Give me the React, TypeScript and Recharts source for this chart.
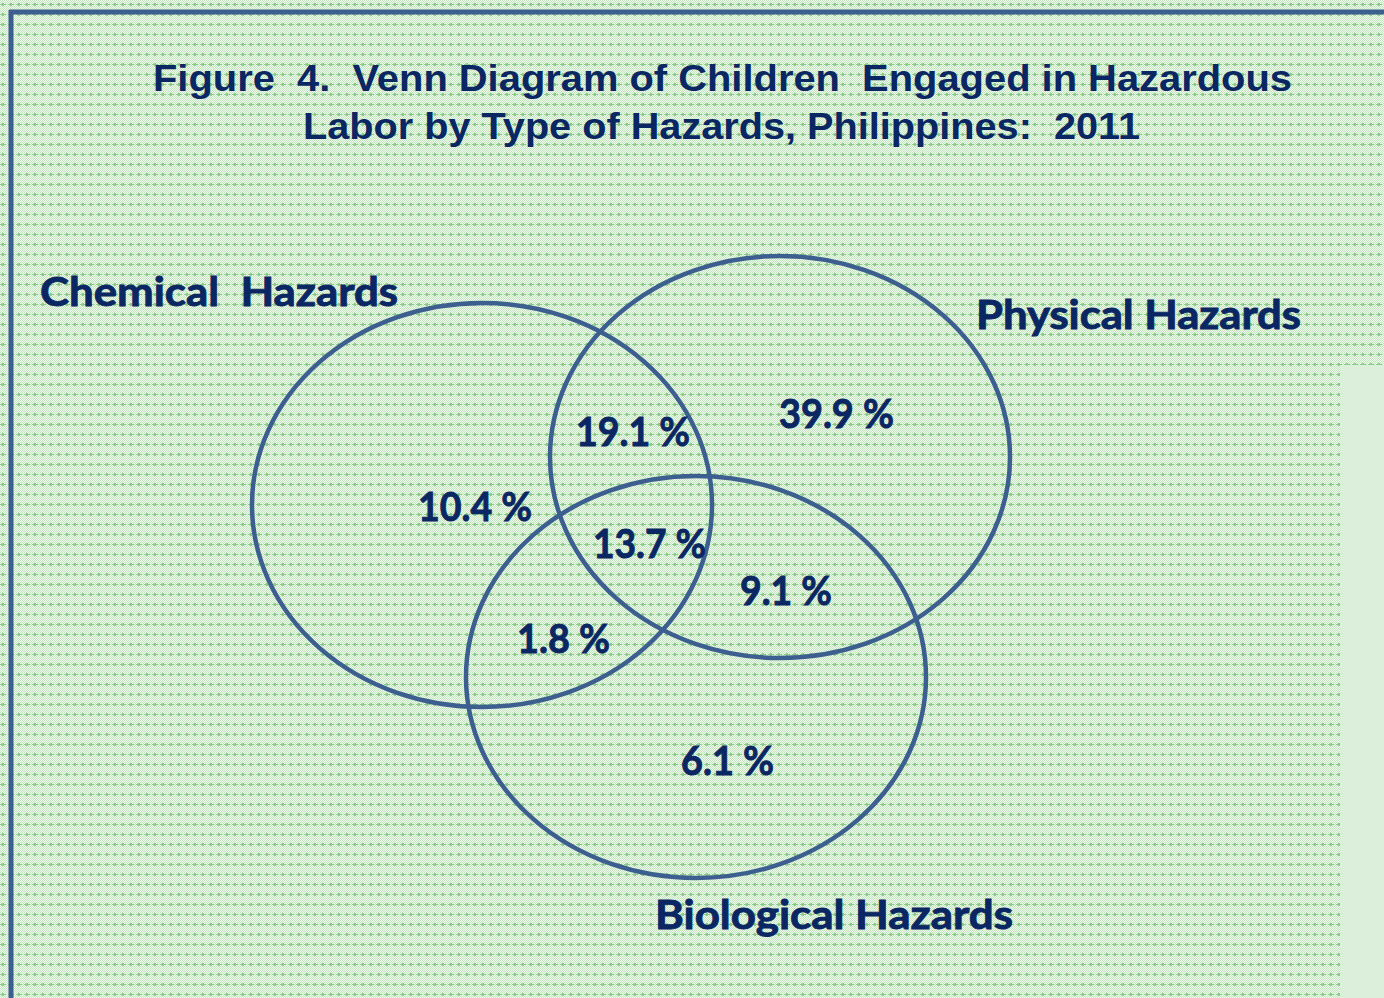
import React from "react";
import {
  ScatterChart,
  Scatter,
  XAxis,
  YAxis,
  ReferenceArea,
  ReferenceLine,
} from "recharts";

// ---- Data ----
const titleLines = [
  "Figure  4.  Venn Diagram of Children  Engaged in Hazardous",
  "Labor by Type of Hazards, Philippines:  2011",
];
const setNames = ["Chemical  Hazards", "Physical Hazards", "Biological Hazards"];
const regionNames = [
  "Chemical only",
  "Chemical & Physical",
  "Physical only",
  "Chemical, Physical & Biological",
  "Physical & Biological",
  "Chemical & Biological",
  "Biological only",
];
const regionValues = [10.4, 19.1, 39.9, 13.7, 9.1, 1.8, 6.1];

// ---- Layout (chart coordinates: 1 unit = 1 px, y downward) ----
const W = 1384;
const H = 998;
const circleLayout = [
  { cx: 482, cy: 505, rx: 230, ry: 202 },
  { cx: 780, cy: 457, rx: 230, ry: 201 },
  { cx: 696, cy: 677, rx: 230, ry: 201 },
];
const setLabelLayout = [
  { x: 219, y: 306, w: 358 },
  { x: 1138.5, y: 329, w: 325 },
  { x: 834, y: 929, w: 358 },
];
const regionLabelLayout = [
  { x: 475, y: 521, w: 114 },
  { x: 633, y: 446, w: 114 },
  { x: 836.5, y: 428, w: 115 },
  { x: 649.5, y: 558, w: 113 },
  { x: 786, y: 605, w: 92 },
  { x: 563.5, y: 653, w: 93 },
  { x: 727.5, y: 775, w: 93 },
];
const titleLayout = [
  { x: 722.5, y: 91, w: 1139 },
  { x: 721.5, y: 139, w: 837 },
];

const NAVY = "#0b2763";
const LINE = "#3d5f8f";
const LABEL_FONT = "Lato, 'Open Sans', sans-serif";
const TITLE_FONT = "'Liberation Sans', Arial, sans-serif";

const titleData = titleLines.map((t, i) => ({ ...titleLayout[i], label: t }));
const setData = setNames.map((t, i) => ({ ...setLabelLayout[i], label: t }));
const regionData = regionValues.map((v, i) => ({
  ...regionLabelLayout[i],
  name: regionNames[i],
  label: `${v.toFixed(1)} %`,
}));

const makeTextShape =
  (fontFamily: string, fontSize: number, outline: number) => (props: any) => {
    const { cx, cy, payload } = props;
    return (
      <text
        x={cx}
        y={cy}
        textAnchor="middle"
        fontFamily={fontFamily}
        fontSize={fontSize}
        fontWeight={700}
        fill={NAVY}
        stroke={outline > 0 ? NAVY : "none"}
        strokeWidth={outline}
        textLength={payload.w}
        lengthAdjust="spacingAndGlyphs"
        style={{ whiteSpace: "pre" }}
      >
        {payload.label}
      </text>
    );
  };

const BackgroundShape = (props: any) => {
  const { x, y, width, height } = props;
  return (
    <g>
      <defs>
        <pattern id="bgpat" width="8" height="10" patternUnits="userSpaceOnUse">
          <rect x="0" y="0" width="8" height="10" fill="#f0f9ee" />
          {[0, 2, 4, 6].map((px) =>
            [0, 2, 4, 6, 8].map((py) => (
              <React.Fragment key={`${px}-${py}`}>
                <rect x={px} y={py} width="1" height="1" fill="#c2e5be" />
                <rect x={px + 1} y={py + 1} width="1" height="1" fill="#c2e5be" />
              </React.Fragment>
            ))
          )}
          <rect x="0" y="4" width="6" height="1" fill="#8ccc8a" />
          <rect x="2" y="3" width="2" height="3" fill="#8ccc8a" />
        </pattern>
      </defs>
      <rect x={x} y={y} width={width} height={height} fill="url(#bgpat)" />
    </g>
  );
};

const EllipseShape = (props: any) => {
  const { x, y, width, height } = props;
  return (
    <ellipse
      cx={x + width / 2}
      cy={y + height / 2}
      rx={width / 2}
      ry={height / 2}
      fill="none"
      stroke={LINE}
      strokeWidth={4.5}
    />
  );
};

export default function App() {
  return (
    <div style={{ position: "absolute", left: 0, top: 0 }}>
      <ScatterChart width={W} height={H} margin={{ top: 0, right: 0, bottom: 0, left: 0 }}>
        <XAxis type="number" dataKey="x" domain={[0, W]} allowDataOverflow hide />
        <YAxis type="number" dataKey="y" domain={[0, H]} allowDataOverflow reversed hide />
        <ReferenceArea x1={0} x2={W} y1={0} y2={H} shape={BackgroundShape} ifOverflow="visible" />
        <ReferenceArea
          x1={1340}
          x2={W}
          y1={365}
          y2={H}
          fill="#dcefda"
          fillOpacity={1}
          stroke="none"
          ifOverflow="visible"
        />
        <ReferenceLine
          segment={[{ x: 11, y: 10 }, { x: 11, y: H }]}
          stroke={LINE}
          strokeWidth={5}
          ifOverflow="visible"
        />
        <ReferenceLine
          segment={[{ x: 9, y: 12 }, { x: W, y: 12 }]}
          stroke={LINE}
          strokeWidth={5}
          ifOverflow="visible"
        />
        {circleLayout.map((c, i) => (
          <ReferenceArea
            key={setNames[i]}
            x1={c.cx - c.rx}
            x2={c.cx + c.rx}
            y1={c.cy - c.ry}
            y2={c.cy + c.ry}
            shape={EllipseShape}
            ifOverflow="visible"
          />
        ))}
        <Scatter data={titleData} shape={makeTextShape(TITLE_FONT, 36, 0)} isAnimationActive={false} />
        <Scatter data={setData} shape={makeTextShape(LABEL_FONT, 40, 0.9)} isAnimationActive={false} />
        <Scatter data={regionData} shape={makeTextShape(LABEL_FONT, 40, 0.9)} isAnimationActive={false} />
      </ScatterChart>
    </div>
  );
}
